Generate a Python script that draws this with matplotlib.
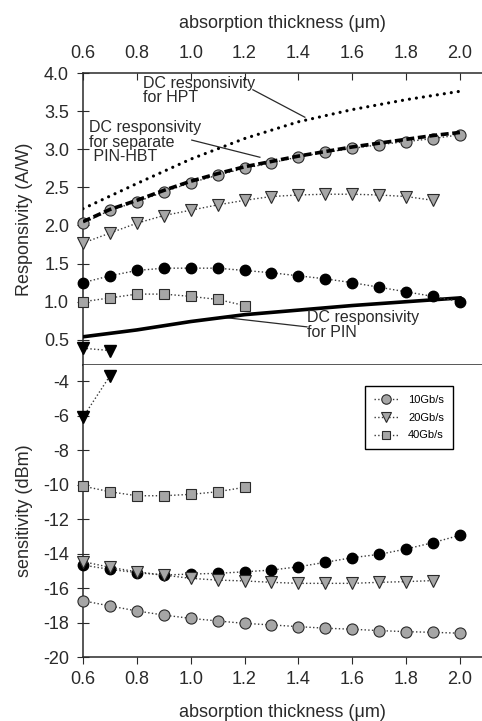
import matplotlib
matplotlib.use("Agg")
import matplotlib.pyplot as plt

plt.rcParams['font.family'] = ['Liberation Sans', 'DejaVu Sans']
plt.rcParams['axes.unicode_minus'] = False

# absorption thickness (um)
thick = [0.6, 0.7, 0.8, 0.9, 1.0, 1.1, 1.2, 1.3, 1.4, 1.5, 1.6, 1.7, 1.8, 1.9, 2.0]
thick_dc = [0.6, 0.8, 1.0, 1.2, 1.4, 1.6, 1.8, 2.0]

# responsivity (A/W)
dc_hpt = [2.22, 2.55, 2.87, 3.14, 3.36, 3.52, 3.65, 3.76]
dc_pin = [0.54, 0.63, 0.74, 0.83, 0.89, 0.95, 1.00, 1.05]
dc_sep = [2.05, 2.21, 2.33, 2.46, 2.58, 2.68, 2.77, 2.84, 2.91, 2.97, 3.03, 3.08, 3.13, 3.18, 3.22]
resp_10g = [2.03, 2.20, 2.31, 2.44, 2.56, 2.66, 2.75, 2.82, 2.90, 2.96, 3.01, 3.06, 3.10, 3.14, 3.19]
resp_20g = [1.77, 1.90, 2.03, 2.13, 2.20, 2.27, 2.33, 2.38, 2.40, 2.41, 2.41, 2.40, 2.38, 2.33]
resp_40g = [1.00, 1.05, 1.10, 1.10, 1.07, 1.03, 0.95]
resp_black_c = [1.25, 1.34, 1.41, 1.44, 1.44, 1.44, 1.41, 1.38, 1.34, 1.30, 1.25, 1.19, 1.13, 1.07, 1.00]
resp_black_t = [0.39, 0.36]

# sensitivity (dBm)
sens_10g = [-16.74, -17.04, -17.33, -17.57, -17.76, -17.91, -18.05, -18.14, -18.24, -18.33,
            -18.39, -18.47, -18.53, -18.57, -18.62]
sens_20g = [-14.47, -14.80, -15.06, -15.25, -15.44, -15.54, -15.59, -15.67, -15.73, -15.73,
            -15.73, -15.67, -15.63, -15.57]
sens_40g = [-10.09, -10.42, -10.65, -10.65, -10.57, -10.42, -10.16]
sens_black_c = [-14.67, -14.92, -15.11, -15.25, -15.19, -15.15, -15.06, -14.96, -14.77, -14.51,
                -14.24, -14.05, -13.74, -13.37, -12.94]
sens_black_t = [-6.1, -3.7]

legend_labels = ['10Gb/s', '20Gb/s', '40Gb/s']

gray = '#a6a6a6'
ink = '#2a2a2a'
dot_line = dict(linestyle=':', color='#3a3a3a', linewidth=1.0, clip_on=False)

fig = plt.figure(figsize=(4.82, 7.21), dpi=100)
ax1 = fig.add_axes([83 / 482, 1 - 365 / 721, 399 / 482, 292 / 721])
ax2 = fig.add_axes([83 / 482, 1 - 657 / 721, 399 / 482, 292 / 721])

# ---- upper panel: responsivity
ax1.plot(thick_dc, dc_hpt, color='black', linewidth=2.3, linestyle=(0, (0.01, 2.2)),
         dash_capstyle='round', zorder=3)
ax1.plot(thick_dc, dc_pin, color='black', linewidth=2.6, zorder=3)
ax1.plot(thick, resp_10g, marker='o', ms=8, mfc=gray, mec=ink, mew=0.8, **dot_line, zorder=4)
ax1.plot(thick, dc_sep, color='black', linewidth=2.6, linestyle=(0, (2.2, 1.0)), zorder=5)
ax1.plot(thick[:len(resp_20g)], resp_20g, marker='v', ms=9, mfc=gray, mec=ink, mew=0.8,
         **dot_line, zorder=4)
ax1.plot(thick[:len(resp_40g)], resp_40g, marker='s', ms=7.5, mfc=gray, mec=ink, mew=0.8,
         **dot_line, zorder=4)
ax1.plot(thick, resp_black_c, marker='o', ms=7.5, mfc='black', mec='black', **dot_line, zorder=4)
ax1.plot(thick[:2], resp_black_t, marker='v', ms=8.5, mfc='black', mec='black', **dot_line, zorder=4)

# annotations
txt = dict(fontsize=11.5, color=ink, linespacing=0.95, va='top', ha='left')
ax1.text(0.823, 3.96, 'DC responsivity\nfor HPT', **txt)
ax1.plot([1.231, 1.424], [3.78, 3.42], color=ink, linewidth=0.9)
ax1.text(0.623, 3.38, 'DC responsivity\nfor separate\n PIN-HBT', **txt)
ax1.plot([1.004, 1.257], [3.12, 2.895], color=ink, linewidth=0.9)
ax1.text(1.432, 0.89, 'DC responsivity\nfor PIN', **txt)
ax1.plot([1.432, 1.109], [0.67, 0.80], color=ink, linewidth=0.9)

ax1.set_xlim(0.6, 2.082)
ax1.set_ylim(0.17, 4.0)
ax1.set_yticks([0.5, 1.0, 1.5, 2.0, 2.5, 3.0, 3.5, 4.0])
ax1.set_yticklabels(['%.1f' % v for v in ax1.get_yticks()])
ax1.set_xticks([0.6, 0.8, 1.0, 1.2, 1.4, 1.6, 1.8, 2.0])
ax1.set_xticklabels(['%.1f' % v for v in ax1.get_xticks()])
ax1.xaxis.tick_top()
ax1.xaxis.set_label_position('top')
ax1.set_xlabel('absorption thickness (\u03bcm)', fontsize=13, color=ink)
ax1.xaxis.set_label_coords(0.5, 1.155)
ax1.set_ylabel('Responsivity (A/W)', fontsize=13, color=ink)
ax1.yaxis.set_label_coords(-0.125, 0.5)
ax1.tick_params(axis='x', direction='in', length=5, pad=8, labelsize=13, colors=ink)
ax1.tick_params(axis='y', direction='inout', length=8, pad=6, labelsize=13, colors=ink)
ax1.spines['right'].set_visible(False)
for s in ['top', 'left', 'bottom']:
    ax1.spines[s].set_linewidth(1.1)
    ax1.spines[s].set_color(ink)

# ---- lower panel: sensitivity
h10, = ax2.plot(thick, sens_10g, marker='o', ms=8, mfc=gray, mec=ink, mew=0.8, **dot_line, zorder=4)
h20, = ax2.plot(thick[:len(sens_20g)], sens_20g, marker='v', ms=9, mfc=gray, mec=ink, mew=0.8,
                **dot_line, zorder=4)
h40, = ax2.plot(thick[:len(sens_40g)], sens_40g, marker='s', ms=7.5, mfc=gray, mec=ink, mew=0.8,
                **dot_line, zorder=4)
ax2.plot(thick, sens_black_c, marker='o', ms=7.5, mfc='black', mec='black', **dot_line, zorder=3)
ax2.plot(thick[:2], sens_black_t, marker='v', ms=8.5, mfc='black', mec='black', **dot_line, zorder=4)

leg = ax2.legend([h10, h20, h40], legend_labels, loc='upper right', bbox_to_anchor=(0.927, 0.928),
                 borderaxespad=0, fontsize=8, fancybox=False, edgecolor='black', framealpha=1,
                 handlelength=2.3, labelspacing=0.7, markerscale=0.85, borderpad=0.8)
leg.get_frame().set_linewidth(1.0)

ax2.set_xlim(0.6, 2.082)
ax2.set_ylim(-20, -3.07)
ax2.set_yticks(list(range(-20, -3, 2)))
ax2.set_xticks([0.6, 0.8, 1.0, 1.2, 1.4, 1.6, 1.8, 2.0])
ax2.set_xticklabels(['%.1f' % v for v in ax2.get_xticks()])
ax2.set_xlabel('absorption thickness (\u03bcm)', fontsize=13, color=ink)
ax2.xaxis.set_label_coords(0.5, -0.16)
ax2.set_ylabel('sensitivity (dBm)', fontsize=13, color=ink)
ax2.yaxis.set_label_coords(-0.125, 0.5)
ax2.tick_params(axis='x', direction='out', length=5, pad=5, labelsize=13, colors=ink)
ax2.tick_params(axis='y', direction='inout', length=8, pad=6, labelsize=13, colors=ink)
ax2.spines['right'].set_visible(False)
ax2.spines['top'].set_visible(False)
for s in ['left', 'bottom']:
    ax2.spines[s].set_linewidth(1.1)
    ax2.spines[s].set_color(ink)

fig.savefig('out.png', dpi=100)
